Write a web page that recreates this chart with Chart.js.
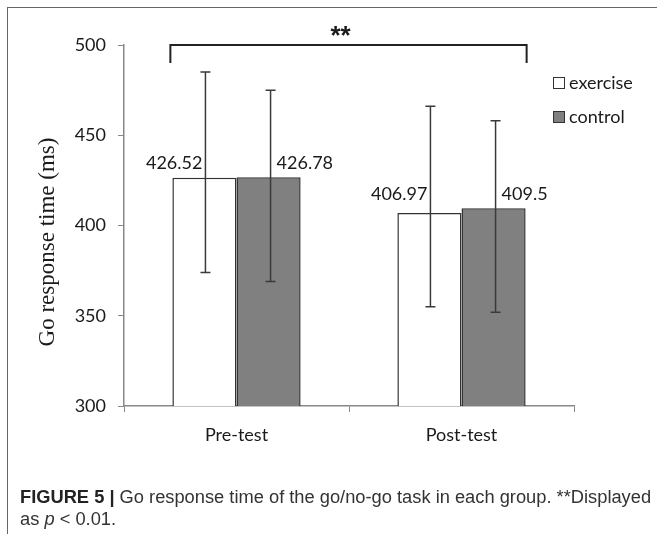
<!DOCTYPE html>
<html>
<head>
<meta charset="utf-8">
<script src="https://cdn.jsdelivr.net/npm/chart.js@4.4.1/dist/chart.umd.min.js"></script>
<style>
  html, body { margin: 0; padding: 0; background: #fff; }
  #wrap { position: relative; width: 657px; height: 534px; overflow: hidden; }
  #frame { position: absolute; left: 7px; top: 7px; width: 700px; height: 600px;
           border-top: 1.5px solid #666; border-left: 1.5px solid #666; }
  #chart { position: absolute; left: 0; top: 0; }
  #caption { position: absolute; left: 20px; top: 486px; width: 640px; white-space: nowrap;
             font-family: "Liberation Sans", Arial, sans-serif; font-size: 18.3px; line-height: 22px; color: #333; }
  #caption b { color: #222; }
</style>
</head>
<body>
<div id="wrap">
  <div id="frame"></div>
  <canvas id="chart" width="657" height="534"></canvas>
  <div id="caption"><b>FIGURE 5 |</b> Go response time of the go/no-go task in each group. **Displayed<br>as <i>p</i> &lt; 0.01.</div>
</div>
<script>
const groups = ['Pre-test', 'Post-test'];
const seriesNames = ['exercise', 'control'];
const exerciseMeans = [426.52, 406.97];
const controlMeans = [426.78, 409.5];
const exerciseHigh = [485, 466];
const exerciseLow = [374, 355];
const controlHigh = [475, 458];
const controlLow = [369, 352];
const yTicks = [300, 350, 400, 450, 500];
const barLabels = [['426.52', '406.97'], ['426.78', '409.5']];

const fills = ['#ffffff', '#808080'];
const txt = '#1a1a1a';
const sans = 'Lato, "Open Sans", sans-serif';

// error bars, value labels, bracket, legend and y title drawn on top of the bars
const overlay = {
  id: 'overlay',
  afterDatasetsDraw(chart) {
    const { ctx, scales: { y } } = chart;
    const ex = chart.getDatasetMeta(0).data;
    const co = chart.getDatasetMeta(1).data;
    ctx.save();

    // whiskers
    ctx.strokeStyle = '#3a3a3a';
    ctx.lineWidth = 1.5;
    const whisker = (x, hi, lo) => {
      const yh = y.getPixelForValue(hi), yl = y.getPixelForValue(lo);
      ctx.beginPath();
      ctx.moveTo(x, yh); ctx.lineTo(x, yl);
      ctx.moveTo(x - 5, yh); ctx.lineTo(x + 5, yh);
      ctx.moveTo(x - 5, yl); ctx.lineTo(x + 5, yl);
      ctx.stroke();
    };
    groups.forEach((g, i) => {
      whisker(ex[i].x + 1, exerciseHigh[i], exerciseLow[i]);
      whisker(co[i].x + 2, controlHigh[i], controlLow[i]);
    });

    // value labels, beside the whisker
    ctx.font = '18px ' + sans;
    ctx.fillStyle = txt;
    ctx.textBaseline = 'middle';
    groups.forEach((g, i) => {
      const ly = Math.min(ex[i].y, co[i].y) - 14;
      ctx.textAlign = 'right';
      ctx.fillText(barLabels[0][i], ex[i].x - 2, ly);
      ctx.textAlign = 'left';
      ctx.fillText(barLabels[1][i], co[i].x + 8, ly);
    });

    // significance bracket
    const bl = ex[0].x - ex[0].width / 2 - 2;
    const br = co[1].x + co[1].width / 2 + 1;
    const bt = y.getPixelForValue(500);
    ctx.strokeStyle = '#222';
    ctx.lineWidth = 2;
    ctx.beginPath();
    ctx.moveTo(bl, bt + 18); ctx.lineTo(bl, bt); ctx.lineTo(br, bt); ctx.lineTo(br, bt + 18);
    ctx.stroke();
    ctx.textAlign = 'center';
    ctx.textBaseline = 'alphabetic';
    ctx.font = 'bold 26px "Liberation Sans", Arial, sans-serif';
    ctx.fillText('**', (bl + br) / 2 - 8, bt - 1);

    // legend
    ctx.font = '18px ' + sans;
    ctx.textAlign = 'left';
    ctx.textBaseline = 'middle';
    seriesNames.forEach((n, k) => {
      const cy = 83 + k * 34;
      ctx.fillStyle = fills[k];
      ctx.fillRect(553, cy - 6, 12, 12);
      ctx.strokeStyle = '#333';
      ctx.lineWidth = 1;
      ctx.strokeRect(553.5, cy - 5.5, 11, 11);
      ctx.fillStyle = txt;
      ctx.fillText(n, 569, cy);
    });

    // y axis title
    ctx.translate(48, 242);
    ctx.rotate(-Math.PI / 2);
    ctx.font = '23px "Liberation Serif", "Times New Roman", serif';
    ctx.textAlign = 'center';
    ctx.fillText('Go response time (ms)', 0, 0);
    ctx.restore();
  }
};

new Chart(document.getElementById('chart'), {
  type: 'bar',
  data: {
    labels: groups,
    datasets: [
      { label: seriesNames[0], data: exerciseMeans, backgroundColor: fills[0], borderColor: '#333',
        borderWidth: 1.5, categoryPercentage: 0.57, barPercentage: 1 },
      { label: seriesNames[1], data: controlMeans, backgroundColor: fills[1], borderColor: '#333',
        borderWidth: 1.5, categoryPercentage: 0.57, barPercentage: 1 }
    ]
  },
  options: {
    responsive: false,
    animation: false,
    layout: { padding: { top: 45, right: 83, left: 0, bottom: 0 } },
    plugins: { legend: { display: false }, tooltip: { enabled: false } },
    scales: {
      x: {
        grid: { offset: true, drawOnChartArea: false, drawTicks: true, tickLength: 6, color: '#888' },
        border: { color: '#888', width: 1.5 },
        ticks: { font: { family: sans, size: 18 }, color: txt, padding: 12 },
        afterFit(s) { s.height = 128; }
      },
      y: {
        min: 300, max: 500,
        afterBuildTicks(s) { s.ticks = yTicks.map(v => ({ value: v })); },
        grid: { drawOnChartArea: false, drawTicks: true, tickLength: 6, color: '#888' },
        border: { color: '#888', width: 1.5 },
        ticks: { font: { family: sans, size: 18 }, color: txt, padding: 12 },
        afterFit(s) { s.width = 124; }
      }
    }
  },
  plugins: [overlay]
});
</script>
</body>
</html>
